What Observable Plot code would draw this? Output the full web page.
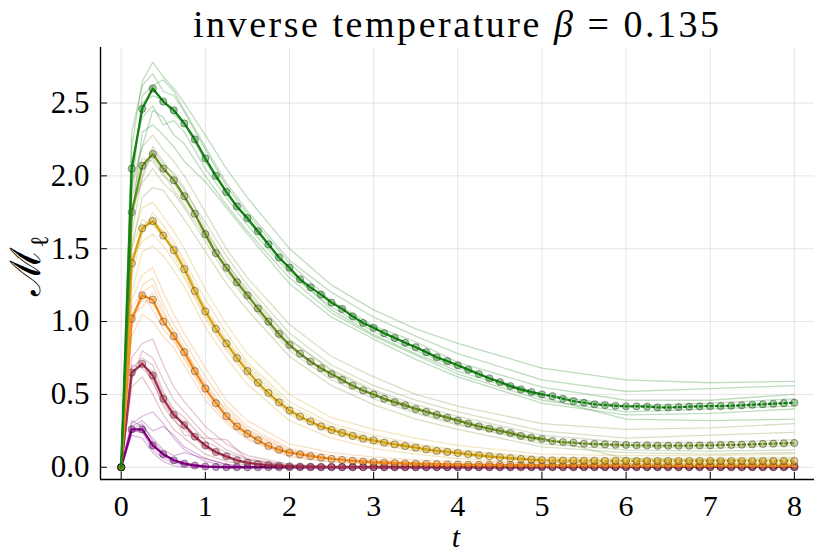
<!DOCTYPE html>
<html><head><meta charset="utf-8">
<script src="https://cdn.jsdelivr.net/npm/d3@7"></script>
<script src="https://cdn.jsdelivr.net/npm/@observablehq/plot@0.6"></script>
<style>body{margin:0;background:#fff} svg{display:block}</style>
</head><body><div id="chart"></div>
<script>
const times = [0,0.125,0.25,0.375,0.5,0.625,0.75,0.875,1,1.125,1.25,1.375,1.5,1.625,1.75,1.875,
  2,2.125,2.25,2.375,2.5,2.625,2.75,2.875,3,3.125,3.25,3.375,3.5,3.625,3.75,3.875,
  4,4.125,4.25,4.375,4.5,4.625,4.75,4.875,5,5.125,5.25,5.375,5.5,5.625,5.75,5.875,
  6,6.125,6.25,6.375,6.5,6.625,6.75,6.875,7,7.125,7.25,7.375,7.5,7.625,7.75,7.875,8];

const purpleMean = [0,0.26,0.26,0.15,0.09,0.048,0.025,0.012,0.005,0.002,0,0,0,0,0,0,
  0,0,0,0,0,0,0,0,0,0,0,0,0,0,0,0, 0,0,0,0,0,0,0,0,0,0,0,0,0,0,0,0, 0,0,0,0,0,0,0,0,0,0,0,0,0,0,0,0,0];
const redMean = [0,0.65,0.71,0.63,0.47,0.36,0.29,0.21,0.15,0.105,0.075,0.048,0.032,0.022,0.015,0.01,
  0.007,0.005,0.004,0.003,0.003,0.002,0.002,0.002,0.002,0.002,0.002,0.002,0.002,0.002,0.002,0.002,
  0.002,0.002,0.002,0.002,0.002,0.002,0.002,0.002,0.002,0.002,0.002,0.002,0.002,0.002,0.002,0.002,
  0.002,0.002,0.002,0.002,0.002,0.002,0.002,0.002,0.002,0.002,0.002,0.002,0.002,0.002,0.002,0.002,0.002];
const orangeMean = [0,1.02,1.18,1.15,1.00,0.90,0.79,0.66,0.54,0.44,0.35,0.28,0.23,0.185,0.146,0.12,
  0.10,0.088,0.076,0.066,0.057,0.05,0.044,0.039,0.035,0.031,0.028,0.026,0.024,0.022,0.021,0.019,
  0.018,0.017,0.016,0.016,0.015,0.015,0.014,0.014,0.013,0.013,0.013,0.013,0.012,0.012,0.012,0.012,
  0.012,0.012,0.012,0.012,0.012,0.012,0.012,0.012,0.012,0.012,0.012,0.012,0.012,0.012,0.012,0.012,0.012];
const yellowMean = [0,1.40,1.64,1.69,1.59,1.49,1.36,1.21,1.07,0.95,0.85,0.75,0.66,0.58,0.51,0.445,
  0.39,0.348,0.314,0.28,0.256,0.236,0.215,0.196,0.185,0.169,0.157,0.146,0.135,0.123,0.112,0.105,
  0.098,0.089,0.082,0.075,0.068,0.062,0.057,0.053,0.048,0.047,0.046,0.046,0.045,0.045,0.044,0.044,
  0.044,0.043,0.043,0.043,0.043,0.043,0.043,0.043,0.043,0.043,0.043,0.043,0.043,0.043,0.043,0.043,0.043];
const oliveMean = [0,1.75,2.07,2.15,2.05,1.97,1.86,1.74,1.60,1.47,1.37,1.27,1.18,1.09,1.00,0.915,
  0.84,0.78,0.726,0.68,0.64,0.60,0.56,0.527,0.50,0.47,0.447,0.425,0.40,0.38,0.36,0.34,
  0.32,0.30,0.28,0.265,0.25,0.235,0.215,0.203,0.194,0.18,0.173,0.169,0.162,0.16,0.157,0.155,
  0.153,0.15,0.15,0.148,0.148,0.148,0.148,0.15,0.15,0.153,0.153,0.155,0.157,0.16,0.162,0.164,0.166];
const greenMean = [0,2.05,2.46,2.60,2.51,2.45,2.36,2.25,2.12,2.00,1.89,1.79,1.71,1.62,1.53,1.44,
  1.37,1.29,1.235,1.185,1.13,1.087,1.036,0.99,0.957,0.92,0.888,0.854,0.824,0.79,0.755,0.728,
  0.70,0.67,0.64,0.61,0.585,0.557,0.534,0.516,0.50,0.488,0.47,0.454,0.443,0.432,0.427,0.422,
  0.418,0.418,0.416,0.411,0.41,0.413,0.416,0.418,0.42,0.42,0.422,0.425,0.429,0.432,0.436,0.44,0.443];

const sampleTimes = [0,0.125,0.25,0.375,0.5,0.625,0.75,1,1.25,1.5,2,2.5,3,3.5,4,5,6,7,8];

const purpleSamples = [
  [0,0.30,0.35,0.38,0.30,0.20,0.12,0.04,0.01,0,0,0,0,0,0,0,0,0,0],
  [0,0.28,0.32,0.25,0.28,0.22,0.14,0.06,0.02,0.005,0,0,0,0,0,0,0,0,0],
  [0,0.25,0.24,0.12,0.06,0.03,0.015,0.003,0,0,0,0,0,0,0,0,0,0,0],
  [0,0.22,0.20,0.10,0.04,0.01,0,0,0,0,0,0,0,0,0,0,0,0,0],
  [0,0.26,0.30,0.18,0.10,0.05,0.03,0.01,0,0,0,0,0,0,0,0,0,0,0],
  [0,0.32,0.28,0.20,0.12,0.08,0.10,0.06,0.02,0,0,0,0,0,0,0,0,0,0],
  [0,0.24,0.26,0.16,0.08,0.04,0.02,0.005,0,0,0,0,0,0,0,0,0,0,0]];
const redSamples = [
  [0,0.75,0.85,0.88,0.70,0.55,0.45,0.28,0.16,0.08,0.02,0.005,0.003,0.002,0.002,0.002,0.002,0.002,0.002],
  [0,0.60,0.80,0.75,0.60,0.46,0.38,0.22,0.12,0.06,0.012,0.004,0.002,0,0,0,0,0,0],
  [0,0.70,0.68,0.60,0.42,0.32,0.26,0.13,0.06,0.025,0.005,0,0,0,0,0,0,0,0],
  [0,0.55,0.62,0.50,0.36,0.26,0.20,0.09,0.04,0.015,0.003,0,0,0,0,0,0,0,0],
  [0,0.68,0.75,0.70,0.52,0.40,0.34,0.18,0.10,0.05,0.01,0.003,0,0,0,0,0,0,0],
  [0,0.62,0.72,0.58,0.44,0.34,0.22,0.20,0.19,0.05,0.008,0.002,0,0,0,0,0,0,0],
  [0,0.66,0.70,0.66,0.50,0.38,0.30,0.14,0.07,0.03,0.006,0.002,0,0,0,0,0,0,0]];
const orangeSamples = [
  [0,1.15,1.32,1.37,1.20,1.05,0.92,0.68,0.46,0.32,0.16,0.10,0.07,0.05,0.04,0.03,0.025,0.025,0.025],
  [0,0.95,1.25,1.30,1.12,0.98,0.86,0.62,0.42,0.28,0.13,0.08,0.05,0.035,0.025,0.02,0.015,0.015,0.015],
  [0,1.05,1.10,1.20,1.05,0.94,0.82,0.56,0.36,0.24,0.10,0.055,0.03,0.02,0.015,0.01,0.01,0.01,0.01],
  [0,0.90,1.05,1.00,0.90,0.82,0.70,0.46,0.30,0.19,0.07,0.035,0.02,0.012,0.01,0.005,0.005,0.005,0.005],
  [0,1.10,1.20,1.08,0.95,0.86,0.76,0.52,0.40,0.26,0.12,0.06,0.04,0.03,0.02,0.015,0.012,0.012,0.012],
  [0,1.00,1.15,1.12,1.02,0.88,0.74,0.50,0.32,0.20,0.08,0.04,0.025,0.015,0.01,0.008,0.006,0.006,0.006],
  [0,0.98,1.20,1.25,1.08,0.92,0.80,0.58,0.38,0.25,0.11,0.065,0.04,0.03,0.022,0.015,0.014,0.014,0.014]];
const yellowSamples = [
  [0,1.55,1.78,1.82,1.72,1.62,1.50,1.22,0.98,0.78,0.50,0.34,0.26,0.20,0.15,0.09,0.08,0.08,0.09],
  [0,1.30,1.60,1.75,1.66,1.55,1.42,1.15,0.92,0.72,0.45,0.30,0.22,0.16,0.12,0.07,0.06,0.06,0.07],
  [0,1.45,1.55,1.60,1.52,1.42,1.30,1.02,0.80,0.62,0.36,0.23,0.16,0.11,0.08,0.04,0.03,0.03,0.03],
  [0,1.20,1.48,1.52,1.45,1.35,1.24,0.96,0.75,0.57,0.32,0.20,0.13,0.09,0.06,0.02,0.02,0.015,0.015],
  [0,1.50,1.70,1.66,1.58,1.50,1.38,1.10,0.88,0.70,0.42,0.28,0.20,0.15,0.11,0.06,0.05,0.05,0.05],
  [0,1.35,1.65,1.72,1.60,1.46,1.32,1.04,0.82,0.63,0.37,0.24,0.17,0.12,0.09,0.035,0.03,0.025,0.02],
  [0,1.40,1.62,1.70,1.62,1.52,1.40,1.08,0.86,0.68,0.40,0.27,0.19,0.14,0.10,0.05,0.01,0.01,0.01]];
const oliveSamples = [
  [0,1.90,2.20,2.28,2.18,2.10,2.00,1.75,1.50,1.30,0.98,0.76,0.62,0.50,0.42,0.30,0.26,0.27,0.30],
  [0,1.60,2.00,2.20,2.10,2.00,1.90,1.68,1.45,1.25,0.92,0.70,0.56,0.46,0.38,0.25,0.20,0.22,0.24],
  [0,1.80,1.95,2.05,1.95,1.88,1.78,1.55,1.32,1.14,0.80,0.60,0.47,0.37,0.29,0.18,0.14,0.13,0.15],
  [0,1.50,1.85,1.92,1.90,1.80,1.70,1.48,1.26,1.08,0.76,0.56,0.43,0.33,0.26,0.14,0.10,0.09,0.10],
  [0,1.85,2.12,2.10,2.00,1.95,1.84,1.62,1.40,1.20,0.87,0.67,0.53,0.43,0.35,0.22,0.17,0.17,0.19],
  [0,1.70,2.05,2.12,2.02,1.90,1.80,1.58,1.35,1.15,0.82,0.62,0.49,0.38,0.30,0.16,0.12,0.11,0.12],
  [0,1.75,1.98,2.18,2.08,2.02,1.92,1.64,1.40,1.22,0.88,0.66,0.52,0.41,0.33,0.20,0.06,0.05,0.06]];
const greenSamples = [
  [0,2.20,2.65,2.78,2.68,2.60,2.50,2.28,2.05,1.85,1.50,1.25,1.08,0.95,0.85,0.68,0.60,0.58,0.59],
  [0,1.90,2.55,2.62,2.66,2.58,2.45,2.20,1.95,1.76,1.42,1.20,1.03,0.90,0.78,0.60,0.52,0.54,0.56],
  [0,2.10,2.40,2.48,2.35,2.38,2.30,2.05,1.85,1.66,1.33,1.10,0.93,0.80,0.68,0.50,0.42,0.44,0.47],
  [0,1.70,2.30,2.35,2.28,2.20,2.10,1.96,1.78,1.60,1.26,1.03,0.88,0.74,0.62,0.44,0.36,0.37,0.40],
  [0,2.30,2.62,2.70,2.58,2.55,2.44,2.18,1.93,1.74,1.40,1.14,0.97,0.86,0.72,0.55,0.46,0.46,0.50],
  [0,1.95,2.20,2.45,2.40,2.28,2.22,2.00,1.80,1.62,1.30,1.06,0.90,0.77,0.64,0.46,0.38,0.40,0.42],
  [0,2.00,2.50,2.55,2.52,2.42,2.36,2.10,1.88,1.69,1.35,1.08,0.91,0.78,0.66,0.48,0.33,0.32,0.33]];

const seriesNames = ["purple","red","orange","yellow","olive","green"];
const seriesColors = ["#800080","#a32f4c","#f28a1e","#d4a414","#6b8e23","#138313"];
const seriesMeans = [purpleMean, redMean, orangeMean, yellowMean, oliveMean, greenMean];
const seriesSamples = [purpleSamples, redSamples, orangeSamples, yellowSamples, oliveSamples, greenSamples];
const solidEnd = 5;

const xTicks = [0,1,2,3,4,5,6,7,8];
const yTicks = [0,0.5,1,1.5,2,2.5];
const yTickLabels = ["0.0","0.5","1.0","1.5","2.0","2.5"];
const xDomain = [-0.246, 8.239];
const yDomain = [-0.084, 2.881];
const serifFont = "'Liberation Serif','Times New Roman',Times,'DejaVu Serif',serif";

const marks = [
  Plot.gridX(xTicks, {stroke: "#000", strokeOpacity: 0.1, strokeWidth: 1}),
  Plot.gridY(yTicks, {stroke: "#000", strokeOpacity: 0.1, strokeWidth: 1})
];
seriesNames.forEach((name, si) => {
  const color = seriesColors[si];
  const sampleRows = [];
  seriesSamples[si].forEach((vals, k) => vals.forEach((v, j) => sampleRows.push({id: k, t: sampleTimes[j], v})));
  const meanRows = seriesMeans[si].map((v, j) => ({t: times[j], v}));
  marks.push(
    Plot.line(sampleRows, {x: "t", y: "v", z: "id", stroke: color, strokeOpacity: 0.27, strokeWidth: 1.3}),
    Plot.line(meanRows.filter(d => d.t <= solidEnd), {x: "t", y: "v", stroke: color, strokeWidth: 2.3}),
    Plot.line(meanRows.filter(d => d.t >= solidEnd), {x: "t", y: "v", stroke: color, strokeWidth: 2.3, strokeDasharray: "2,3.3"}),
    Plot.dot(meanRows, {x: "t", y: "v", r: 3.6, fill: color, fillOpacity: 0.4, stroke: "#000", strokeOpacity: 0.35, strokeWidth: 1})
  );
});
marks.push(
  Plot.ruleX([xDomain[0]], {stroke: "#000", strokeWidth: 1.4}),
  Plot.ruleY([yDomain[0]], {stroke: "#000", strokeWidth: 1.4}),
  Plot.axisX(xTicks, {tickSize: -7, tickPadding: 22, tickFormat: d => String(d), label: null, fontSize: 30}),
  Plot.axisY(yTicks, {tickSize: -7, tickPadding: 18, tickFormat: (d, i) => yTickLabels[i], label: null, fontSize: 31})
);

const chart = Plot.plot({
  width: 830, height: 554,
  marginLeft: 100, marginRight: 16, marginTop: 47, marginBottom: 75,
  style: {fontFamily: serifFont, background: "#fff", color: "#000"},
  x: {domain: xDomain},
  y: {domain: yDomain},
  marks
});
document.getElementById("chart").appendChild(chart);

const svg = d3.select(chart);
const title = svg.append("text").attr("x", 456).attr("y", 37).attr("text-anchor", "middle")
  .attr("font-family", serifFont).attr("font-size", 38).attr("fill", "#000")
  .attr("textLength", 526).attr("lengthAdjust", "spacing");
title.append("tspan").text("inverse temperature ");
title.append("tspan").attr("font-style", "italic").text("β");
title.append("tspan").text(" = 0.135");
svg.append("text").attr("x", 456).attr("y", 547).attr("text-anchor", "middle")
  .attr("font-family", serifFont).attr("font-style", "italic").attr("font-size", 30).attr("fill", "#000").text("t");
const ylab = svg.append("text").attr("transform", "translate(40,266) rotate(-90)").attr("text-anchor", "middle")
  .attr("font-family", "'DejaVu Serif', serif").attr("font-size", 42).attr("fill", "#000");
ylab.append("tspan").text("ℳ");
ylab.append("tspan").attr("font-size", 25).attr("dy", 8).text("ℓ");
</script>
</body></html>
